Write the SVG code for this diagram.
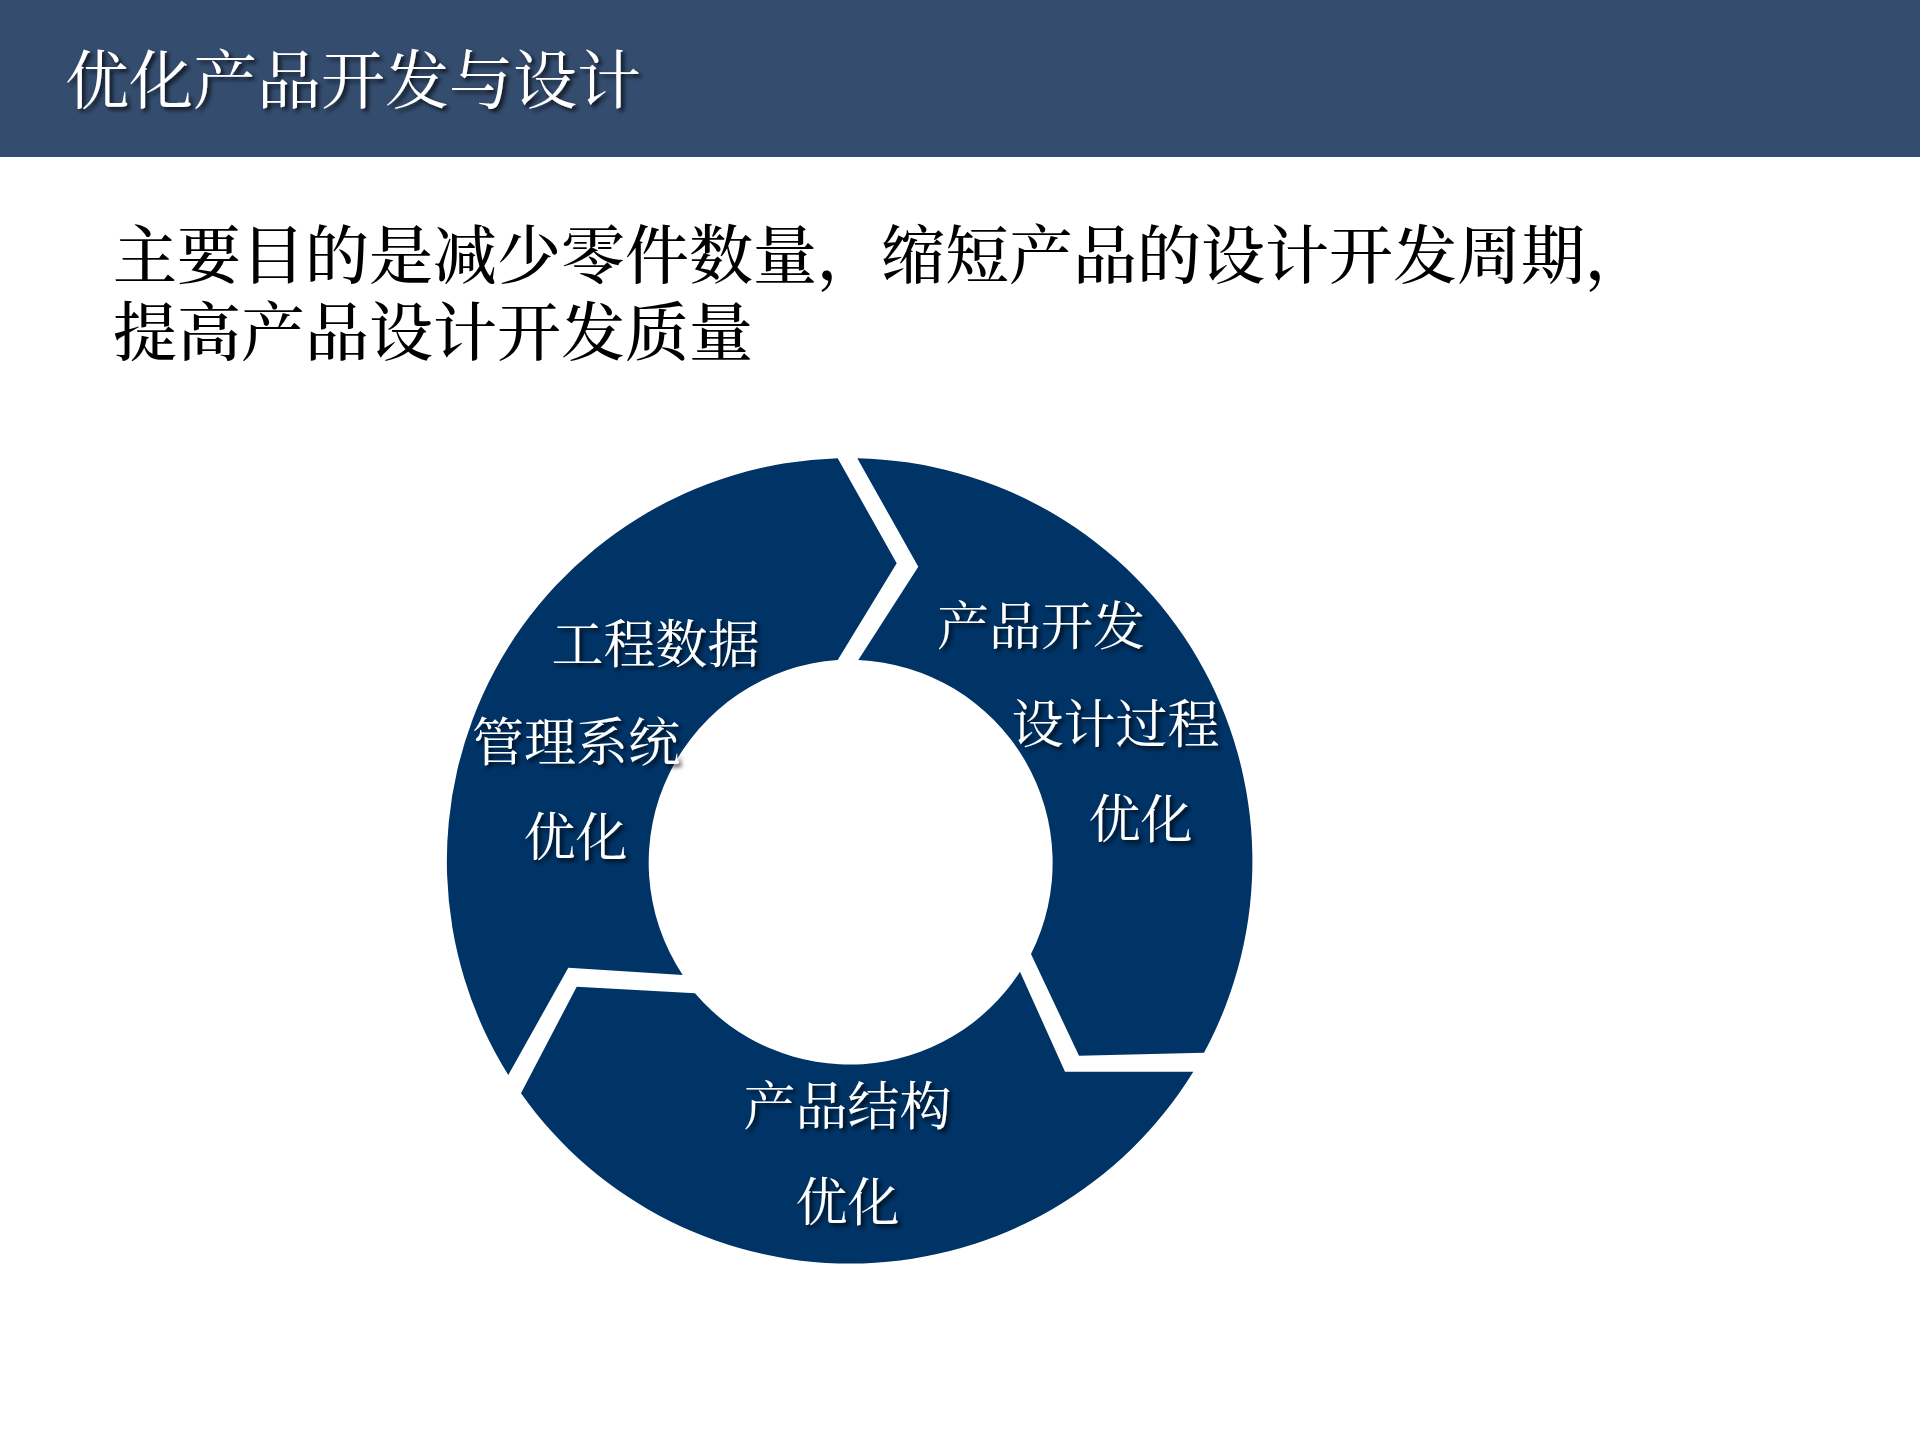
<svg xmlns="http://www.w3.org/2000/svg" width="1920" height="1440" viewBox="0 0 1920 1440">
  <defs>
    <style>
      .cjk { font-family: "Noto Serif CJK SC", "Noto Sans CJK SC", serif; }
      .subfont { font-family: "Liberation Serif", "Noto Serif CJK SC", "Noto Sans CJK SC", serif; }
      .title { fill: #ffffff; font-size: 64px; }
      .sub { fill: #000000; font-size: 64px; font-weight: 500; }
      .seg { fill: #003366; }
      .lbl { fill: #ffffff; font-size: 52px; text-anchor: middle; }
    </style>
    <filter id="shadow" x="-10%" y="-20%" width="130%" height="150%">
      <feDropShadow dx="3" dy="3" stdDeviation="2" flood-color="#000000" flood-opacity="0.75"/>
    </filter>
  </defs>

  <rect x="0" y="0" width="1920" height="1440" fill="#ffffff"/>

  <g id="header">
    <rect x="0" y="0" width="1920" height="157" fill="#344c6e"/>
    <text class="cjk title" x="65" y="103" filter="url(#shadow)">优化产品开发与设计</text>
  </g>

  <g id="subtitle">
    <text class="subfont sub" x="113" y="278">主要目的是减少零件数量，缩短产品的设计开发周期，</text>
    <text class="subfont sub" x="113" y="355">提高产品设计开发质量</text>
  </g>

  <g id="node-edm">
    <path class="seg" d="M 508.3,1075 A 403 403 0 0 1 837.7,458.3 L 896.7,563.3 L 837.7,660 A 203 203 0 0 0 682.7,975 L 568.3,967.7 Z"/>
    <g filter="url(#shadow)">
      <text class="cjk lbl" x="655.5" y="663">工程数据</text>
      <text class="cjk lbl" x="576" y="761">管理系统</text>
      <text class="cjk lbl" x="575.5" y="856">优化</text>
    </g>
  </g>

  <g id="node-process">
    <path class="seg" d="M 857.3,458.3 A 403 403 0 0 1 1204,1052.7 L 1079,1055.7 L 1031,954 A 203 203 0 0 0 858.3,660 L 918.3,566.7 Z"/>
    <g filter="url(#shadow)">
      <text class="cjk lbl" x="1041" y="645">产品开发</text>
      <text class="cjk lbl" x="1115.5" y="743">设计过程</text>
      <text class="cjk lbl" x="1140.5" y="838">优化</text>
    </g>
  </g>

  <g id="node-structure">
    <path class="seg" d="M 1193.3,1071.7 A 403 403 0 0 1 521,1093.3 L 576.7,986.7 L 695,993.3 A 203 203 0 0 0 1020,971.7 L 1065,1071.7 Z"/>
    <g filter="url(#shadow)">
      <text class="cjk lbl" x="847.5" y="1125">产品结构</text>
      <text class="cjk lbl" x="847.5" y="1221">优化</text>
    </g>
  </g>

  <g id="connectors"></g>
</svg>
